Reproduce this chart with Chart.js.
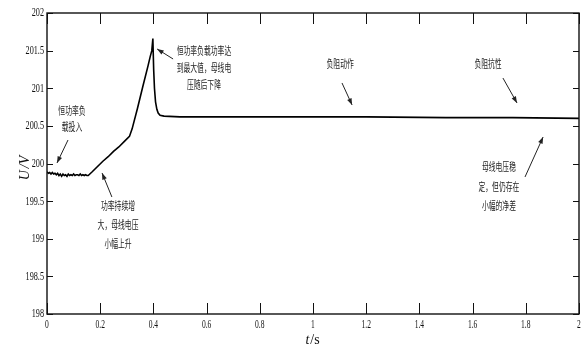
<!DOCTYPE html>
<html><head><meta charset="utf-8">
<script src="https://cdn.jsdelivr.net/npm/chart.js@4/dist/chart.umd.min.js"></script>
<style>html,body{margin:0;padding:0;background:#fff;}#wrap{width:587px;height:346px;}</style>
</head><body><div id="wrap"><canvas id="c" width="587" height="346"></canvas></div>
<script>
// ---- data ----
const timeS = [0,0.005,0.01,0.015,0.02,0.025,0.03,0.035,0.04,0.045,0.05,0.055,0.06,0.065,0.07,0.075,0.08,0.085,0.09,0.095,0.1,0.105,0.11,0.115,0.12,0.125,0.13,0.135,0.14,0.145,0.15,0.155,
  0.17,0.19,0.21,0.23,0.25,0.27,0.29,0.31,0.32,0.34,0.36,0.38,0.388,0.394,0.398,0.401,0.404,0.408,0.413,0.418,0.425,0.44,0.5,0.8,1.2,1.5,1.75,2.0];
const busVoltage = [199.89,199.87,199.88,199.86,199.88,199.86,199.87,199.85,199.87,199.84,199.86,199.83,199.86,199.84,199.85,199.83,199.86,199.84,199.85,199.84,199.86,199.84,199.85,199.85,199.84,199.86,199.84,199.85,199.84,199.85,199.84,199.84,
  199.89,199.96,200.03,200.09,200.16,200.22,200.29,200.36,200.46,200.73,201.02,201.30,201.42,201.50,201.66,201.25,201.0,200.82,200.72,200.67,200.64,200.63,200.62,200.62,200.62,200.61,200.61,200.60];
const xTickValues = [0,0.2,0.4,0.6,0.8,1,1.2,1.4,1.6,1.8,2];
const xTickLabels = ['0','0.2','0.4','0.6','0.8','1','1.2','1.4','1.6','1.8','2'];
const yTickValues = [198,198.5,199,199.5,200,200.5,201,201.5,202];
const yTickLabels = ['198','198.5','199','199.5','200','200.5','201','201.5','202'];
const noteLines = [
  ['恒功率负','载投入'],
  ['功率持续增','大，母线电压','小幅上升'],
  ['恒功率负载功率达','到最大值，母线电','压随后下降'],
  ['负阻动作'],
  ['负阻抗性'],
  ['母线电压稳','定，但仍存在','小幅的净差']
];
// text anchor (t, U) of first line, line gap px, arrow tail (t,U), arrow head (t,U)
const noteText = [[0.094,200.698],[0.267,199.435],[0.590,201.495],[1.102,201.322],[1.658,201.322],[1.699,199.953]];
const noteGap = [16,19,17,0,0,19.5];
const arrowTail = [[0.079,200.312],[0.244,199.555],[0.474,201.389],[1.109,201.070],[1.714,201.136],[1.797,199.821]];
const arrowHead = [[0.0376,200.007],[0.207,199.874],[0.414,201.522],[1.147,200.777],[1.767,200.804],[1.865,200.352]];

const points = timeS.map((t,i)=>({x:t,y:busVoltage[i]}));

function condensedText(ctx, s, x, y, sx, align){
  ctx.save(); ctx.translate(x,y); ctx.scale(sx,1);
  ctx.textAlign=align; ctx.fillText(s,0,0); ctx.restore();
}

const framePlugin = {
  id:'frame',
  afterDraw(chart){
    const {ctx, chartArea:a, scales:{x,y}} = chart;
    ctx.save();
    ctx.strokeStyle='#111'; ctx.lineWidth=1.4;
    ctx.strokeRect(a.left,a.top,a.right-a.left,a.bottom-a.top);
    ctx.lineWidth=1;
    ctx.beginPath();
    xTickValues.forEach(v=>{const px=Math.round(x.getPixelForValue(v))+0.5;
      ctx.moveTo(px,a.bottom);ctx.lineTo(px,a.bottom-11);
      ctx.moveTo(px,a.top);ctx.lineTo(px,a.top+11);});
    yTickValues.forEach(v=>{const py=Math.round(y.getPixelForValue(v))+0.5;
      ctx.moveTo(a.left,py);ctx.lineTo(a.left+6,py);
      ctx.moveTo(a.right,py);ctx.lineTo(a.right-6,py);});
    ctx.stroke();
    // tick labels (condensed serif, like the reference)
    ctx.fillStyle='#111'; ctx.textBaseline='middle';
    ctx.font="13px 'Liberation Serif'";
    xTickValues.forEach((v,i)=>condensedText(ctx,xTickLabels[i],x.getPixelForValue(v),a.bottom+11,0.58,'center'));
    yTickValues.forEach((v,i)=>condensedText(ctx,yTickLabels[i],a.left-3,y.getPixelForValue(v),0.63,'right'));
    // annotations
    ctx.fillStyle='#222'; ctx.strokeStyle='#222';
    ctx.textBaseline='middle';
    ctx.font="11px 'Noto Sans CJK SC'";
    noteLines.forEach((lines,i)=>{
      const cx=x.getPixelForValue(noteText[i][0]);
      const cy=y.getPixelForValue(noteText[i][1]);
      lines.forEach((s,j)=>condensedText(ctx,s,cx,cy+j*noteGap[i],0.62,'center'));
      const x1=x.getPixelForValue(arrowTail[i][0]), y1=y.getPixelForValue(arrowTail[i][1]);
      const x2=x.getPixelForValue(arrowHead[i][0]), y2=y.getPixelForValue(arrowHead[i][1]);
      ctx.lineWidth=1;
      ctx.beginPath(); ctx.moveTo(x1,y1); ctx.lineTo(x2,y2); ctx.stroke();
      const ang=Math.atan2(y2-y1,x2-x1), L=7, w=0.35;
      ctx.beginPath(); ctx.moveTo(x2,y2);
      ctx.lineTo(x2-L*Math.cos(ang-w),y2-L*Math.sin(ang-w));
      ctx.lineTo(x2-L*Math.cos(ang+w),y2-L*Math.sin(ang+w));
      ctx.closePath(); ctx.fill();
    });
    // axis titles
    ctx.fillStyle='#111';
    ctx.textBaseline='middle';
    ctx.save(); ctx.translate(25,168); ctx.rotate(-Math.PI/2);
    ctx.textAlign='left';
    ctx.font="italic 14px 'Liberation Serif'"; const wU=ctx.measureText('U').width;
    const wR=ctx.measureText('/V').width;
    const st=-(wU+wR+2)/2;
    ctx.fillText('U',st,0);
    ctx.fillText('/V',st+wU+2,0);
    ctx.restore();
    ctx.textAlign='left';
    ctx.font="italic 14px 'Liberation Serif'"; const wt=ctx.measureText('t').width;
    ctx.font="14px 'Liberation Serif'"; const ws=ctx.measureText('/s').width;
    const sx=x.getPixelForValue(1)-(wt+ws)/2-1;
    ctx.font="italic 14px 'Liberation Serif'"; ctx.fillText('t',sx,340);
    ctx.font="14px 'Liberation Serif'"; ctx.fillText('/s',sx+wt+1,340);
    ctx.restore();
  }
};

new Chart(document.getElementById('c'),{
  type:'line',
  data:{datasets:[{data:points,borderColor:'#000',borderWidth:1.6,pointRadius:0,tension:0,fill:false}]},
  options:{
    responsive:false, animation:false, devicePixelRatio:1,
    layout:{padding:{top:13,right:8,left:0,bottom:0}},
    plugins:{legend:{display:false},tooltip:{enabled:false}},
    scales:{
      x:{type:'linear',min:0,max:2,
        afterBuildTicks(s){s.ticks=xTickValues.map(v=>({value:v}));},
        afterFit(s){s.height=32;},
        grid:{display:false,drawTicks:false},border:{display:false},
        ticks:{display:false,callback:(v,i)=>xTickLabels[i]}},
      y:{type:'linear',min:198,max:202,
        afterBuildTicks(s){s.ticks=yTickValues.map(v=>({value:v}));},
        afterFit(s){s.width=47;},
        grid:{display:false,drawTicks:false},border:{display:false},
        ticks:{display:false,callback:(v,i)=>yTickLabels[i]}}
    }
  },
  plugins:[framePlugin]
});
</script></body></html>
